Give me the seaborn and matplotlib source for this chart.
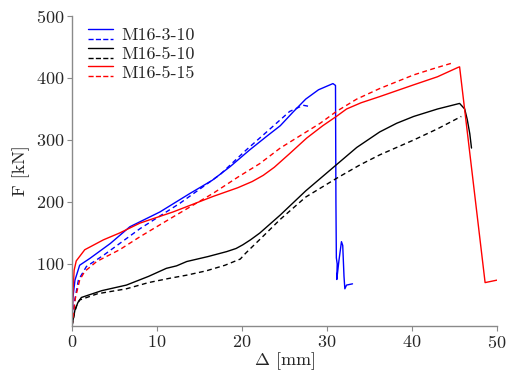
import matplotlib
matplotlib.use("Agg")
import matplotlib.pyplot as plt
from matplotlib.lines import Line2D
from matplotlib.legend_handler import HandlerBase
import seaborn as sns
import pandas as pd

# ---------------- data ----------------
labels = ["M16-3-10", "M16-5-10", "M16-5-15"]

x_m16_3_10_a = [0, 0.1, 0.35, 0.9, 2.1, 4.5, 6.8, 10.35, 13.9, 16.5, 18.6, 20.9, 23.0, 24.5, 26.0, 27.5,
                29.0, 30.7, 31.0, 31.05, 31.1, 31.2, 31.15, 31.4, 31.7, 31.85, 32.0, 32.1, 32.3, 33.0]
y_m16_3_10_a = [0, 45, 74, 98, 109, 133, 160, 184, 214, 235, 257, 284, 307, 323, 345, 366,
                381, 391, 388, 200, 110, 100, 75, 105, 136, 130, 80, 60, 66, 68]

x_m16_3_10_b = [0, 0.3, 0.75, 1.7, 3.7, 8.0, 12.7, 17.4, 20.5, 22.9, 25.6, 27.2, 28.0]
y_m16_3_10_b = [0, 40, 74, 96, 114, 157, 198, 244, 284, 313, 346, 356, 354]

x_m16_5_10_a = [0, 0.35, 0.7, 1.1, 3.5, 6.4, 9, 11.1, 12.3, 13.5, 16, 18.2, 19.3, 20.1, 21.0, 22.1, 24.5, 27.5,
                31.1, 33.5, 36.2, 38.2, 40.2, 43, 45.6, 46.2, 46.5, 46.8, 47.0]
y_m16_5_10_a = [0, 26, 38, 46, 57, 66, 80, 93, 97, 104, 112, 120, 125, 131, 139, 150, 179, 218,
                260, 288, 313, 327, 338, 350, 359, 350, 333, 310, 287]

x_m16_5_10_b = [0, 0.3, 0.6, 0.9, 3, 6.4, 9, 11.5, 13.5, 15.8, 18, 19.8, 20.4, 22.5, 24.5, 27.5,
                31.1, 33.9, 36.2, 40.2, 43, 45.8]
y_m16_5_10_b = [0, 22, 35, 42, 52, 60, 70, 77, 82, 89, 98, 108, 117, 145, 172, 208,
                238, 260, 276, 300, 318, 338]

x_m16_5_15_a = [0, 0.1, 0.25, 0.5, 1.5, 3.7, 5.6, 8.0, 11.9, 16.6, 19.5, 21.2, 22.5, 23.8, 25.6, 27.6, 29.5,
                31.1, 32.3, 34.0, 36.2, 40.2, 43.0, 45.4, 45.6, 48.6, 50.0]
y_m16_5_15_a = [0, 50, 90, 105, 123, 139, 150, 166, 184, 209, 223, 233, 243, 256, 278, 303, 323,
                338, 350, 360, 370, 389, 402, 417, 418, 70, 74]

x_m16_5_15_b = [0, 0.4, 0.9, 1.5, 2.9, 5.6, 8.0, 11.9, 16.6, 19.5, 22.1, 24.5, 29.2, 31.1, 33.5,
                36.2, 40.2, 42.5, 44.7]
y_m16_5_15_b = [0, 45, 74, 88, 104, 123, 144, 176, 214, 240, 262, 287, 327, 346, 366,
                383, 405, 415, 424]

x_ticks = [0, 10, 20, 30, 40, 50]
y_ticks = [100, 200, 300, 400, 500]

# ---------------- style ----------------
sns.set_style("ticks")
plt.rcParams["font.family"] = ["cmr10", "DejaVu Serif"]
plt.rcParams["mathtext.fontset"] = "cm"
plt.rcParams["axes.formatter.use_mathtext"] = True
plt.rcParams["axes.unicode_minus"] = False

FS = 13
GRAY = "#8a8a8a"
LW = 1.0
DASH = (0, (3.5, 2.5))

fig = plt.figure(figsize=(5.08, 3.81), dpi=100)
ax = fig.add_axes([72 / 508, 1 - 326 / 381, (497 - 72) / 508, (326 - 16) / 381])

series = [
    (x_m16_3_10_a, y_m16_3_10_a, "blue", "-"),
    (x_m16_3_10_b, y_m16_3_10_b, "blue", DASH),
    (x_m16_5_10_a, y_m16_5_10_a, "black", "-"),
    (x_m16_5_10_b, y_m16_5_10_b, "black", DASH),
    (x_m16_5_15_a, y_m16_5_15_a, "red", "-"),
    (x_m16_5_15_b, y_m16_5_15_b, "red", DASH),
]
handles = []
for xs, ys, c, ls in series:
    df = pd.DataFrame({"x": xs, "y": ys})
    sns.lineplot(data=df, x="x", y="y", sort=False, estimator=None, ax=ax,
                 color=c, linewidth=LW)
    ln = ax.lines[-1]
    ln.set_linestyle(ls)
    handles.append(ln)

ax.set_xlim(0, 50)
ax.set_ylim(0, 500)
ax.set_xticks(x_ticks)
ax.set_yticks(y_ticks)
ax.set_xlabel(r"$\Delta$ [mm]", fontsize=FS, labelpad=0)
ax.set_ylabel("F [kN]", fontsize=FS, labelpad=4)
ax.tick_params(axis="both", direction="out", length=3.5, width=0.8, color=GRAY,
               labelsize=FS, pad=2)
for s in ["top", "right"]:
    ax.spines[s].set_visible(False)
for s in ["left", "bottom"]:
    ax.spines[s].set_color(GRAY)
    ax.spines[s].set_linewidth(1.0)


class HandlerTwoLines(HandlerBase):
    def create_artists(self, legend, orig_handle, xdescent, ydescent, width,
                       height, fontsize, trans):
        out = []
        yc = height / 2 - ydescent
        for h, dy in zip(orig_handle, (3.6, -3.6)):
            ln = Line2D([-xdescent, -xdescent + width], [yc + dy, yc + dy], color=h.get_color(),
                        linestyle=h.get_linestyle(), linewidth=h.get_linewidth(),
                        transform=trans)
            out.append(ln)
        return out


leg_handles = [(handles[0], handles[1]), (handles[2], handles[3]), (handles[4], handles[5])]
ax.legend(leg_handles, labels, handler_map={tuple: HandlerTwoLines()},
          loc="upper left", bbox_to_anchor=(0.03, 0.975), frameon=False,
          fontsize=FS, handlelength=1.35, handleheight=0.7, handletextpad=0.45,
          labelspacing=0.18, borderaxespad=0.0, borderpad=0.2)

fig.savefig("out.png", dpi=100)
